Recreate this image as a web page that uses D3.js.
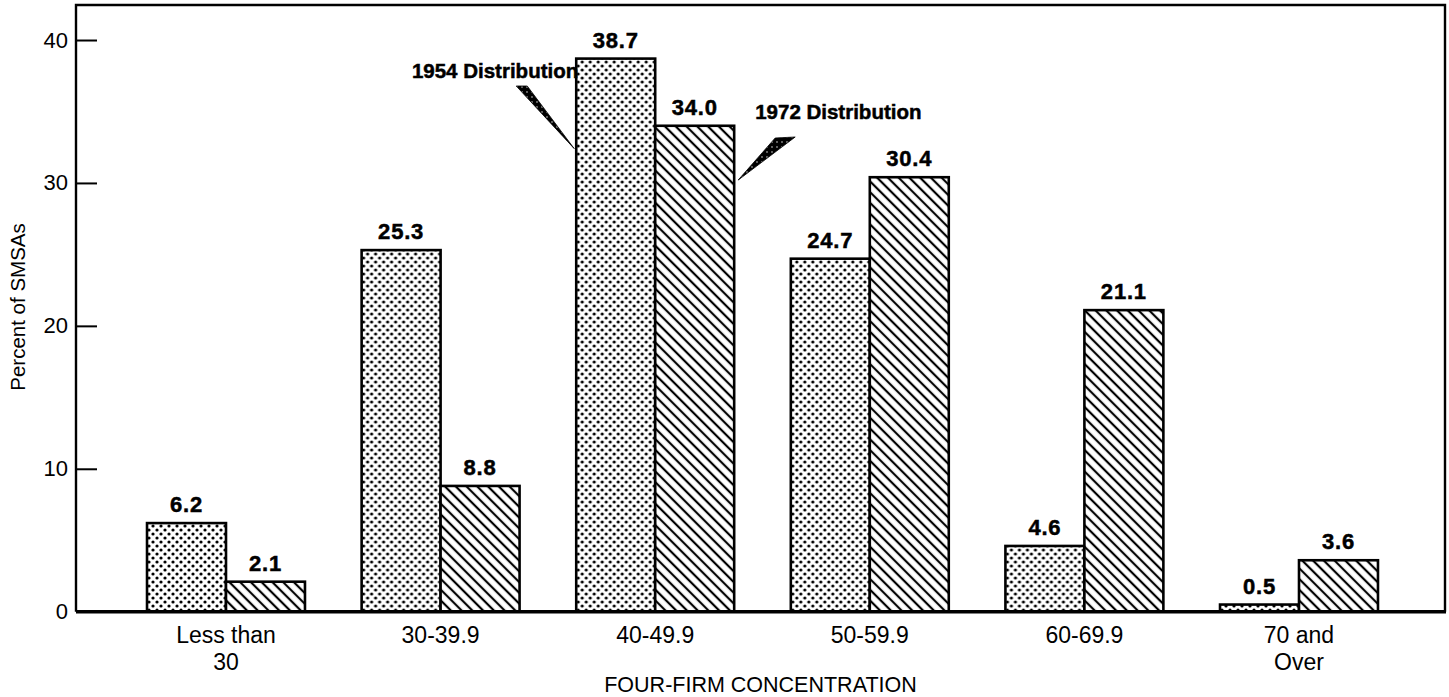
<!DOCTYPE html>
<html>
<head>
<meta charset="utf-8">
<script src="https://cdn.jsdelivr.net/npm/d3@7"></script>
<style>
  body { margin: 0; background: #fff; }
  text { font-family: "Liberation Sans", Arial, Helvetica, sans-serif; fill: #000; }
  .bold { font-weight: bold; stroke: #000; stroke-width: 0.5px; }
</style>
</head>
<body>
<svg id="chart"></svg>
<script>
// data
var categories = ["Less than|30", "30-39.9", "40-49.9", "50-59.9", "60-69.9", "70 and|Over"];
var series = ["1954", "1972"];
var values1954 = [6.2, 25.3, 38.7, 24.7, 4.6, 0.5];
var values1972 = [2.1, 8.8, 34.0, 30.4, 21.1, 3.6];
var yTicks = [0, 10, 20, 30, 40];

// set the dimensions and margins of the graph
var width = 1449, height = 697;
var margin = {top: 5, right: 4, bottom: 85, left: 76};

var svg = d3.select("#chart")
    .attr("width", width)
    .attr("height", height);

// patterns
var defs = svg.append("defs");
var dots = defs.append("pattern")
    .attr("id", "dots")
    .attr("patternUnits", "userSpaceOnUse")
    .attr("width", 8).attr("height", 8);
dots.append("rect").attr("width", 8).attr("height", 8).attr("fill", "#fff");
dots.append("circle").attr("cx", 2).attr("cy", 2).attr("r", 1.6).attr("fill", "#000");
dots.append("circle").attr("cx", 6).attr("cy", 6).attr("r", 1.6).attr("fill", "#000");

var hatch = defs.append("pattern")
    .attr("id", "hatch")
    .attr("patternUnits", "userSpaceOnUse")
    .attr("width", 7.6).attr("height", 7.6)
    .attr("patternTransform", "rotate(-45)");
hatch.append("rect").attr("width", 7.6).attr("height", 7.6).attr("fill", "#fff");
hatch.append("line").attr("x1", 3.8).attr("y1", -1).attr("x2", 3.8).attr("y2", 9)
    .attr("stroke", "#000").attr("stroke-width", 2.2);

var speckle = defs.append("pattern")
    .attr("id", "speckle")
    .attr("patternUnits", "userSpaceOnUse")
    .attr("width", 5).attr("height", 5);
speckle.append("rect").attr("width", 5).attr("height", 5).attr("fill", "#000");
speckle.append("circle").attr("cx", 2).attr("cy", 2).attr("r", 0.7).attr("fill", "#fff");

// set the ranges
var step = 214.6;
var x = d3.scaleBand()
    .domain(categories)
    .range([226 - step / 2, 226 - step / 2 + step * categories.length])
    .paddingInner(0.264)
    .paddingOuter(0.132);
var xs = d3.scaleBand().domain(series).range([0, x.bandwidth()]);

var y = d3.scaleLinear()
    .domain([0, 42.45])
    .range([height - margin.bottom - 0.3, margin.top]);

var x0 = margin.left, x1 = width - margin.right;
var yBase = y(0);

// frame
svg.append("path")
    .attr("d", "M" + x0 + "," + yBase + "V" + margin.top + "H" + x1 + "V" + yBase)
    .attr("fill", "none").attr("stroke", "#000").attr("stroke-width", 2.4);

// bars
var rows = categories.map(function(c, i) {
  return {cat: c, v: [values1954[i], values1972[i]]};
});
var groups = svg.selectAll(".grp").data(rows).enter().append("g")
    .attr("transform", function(d) { return "translate(" + x(d.cat) + ",0)"; });

groups.selectAll("rect").data(function(d) {
    return series.map(function(s, j) { return {s: s, v: d.v[j]}; });
  }).enter().append("rect")
    .attr("x", function(d) { return xs(d.s); })
    .attr("y", function(d) { return y(d.v); })
    .attr("width", xs.bandwidth())
    .attr("height", function(d) { return yBase - y(d.v); })
    .attr("fill", function(d) { return d.s === "1954" ? "url(#dots)" : "url(#hatch)"; })
    .attr("stroke", "#000").attr("stroke-width", 2.6);

groups.selectAll(".val").data(function(d) {
    return series.map(function(s, j) { return {s: s, v: d.v[j]}; });
  }).enter().append("text")
    .attr("class", "val bold")
    .attr("x", function(d) { return xs(d.s) + xs.bandwidth() / 2; })
    .attr("y", function(d) { return y(d.v) - 11; })
    .attr("text-anchor", "middle")
    .style("font-size", "22px")
    .style("letter-spacing", "0.8px")
    .text(function(d) { return d.v.toFixed(1); });

// baseline
svg.append("line")
    .attr("x1", x0).attr("x2", x1 + 1).attr("y1", yBase).attr("y2", yBase)
    .attr("stroke", "#000").attr("stroke-width", 3.4);

// add the Y Axis
var yAxis = svg.append("g")
    .attr("transform", "translate(" + x0 + ",0)")
    .call(d3.axisLeft(y).tickValues(yTicks).tickSize(-21).tickPadding(8));
yAxis.select(".domain").remove();
yAxis.selectAll(".tick line").attr("stroke", "#000").attr("stroke-width", 2)
    .filter(function(d) { return d === 0; }).remove();
yAxis.selectAll(".tick text").style("font-size", "22px")
    .attr("font-family", null);

svg.append("text")
    .attr("transform", "translate(25," + 307 + ") rotate(-90)")
    .attr("text-anchor", "middle")
    .style("font-size", "20.5px")
    .text("Percent of SMSAs");

// X category labels
var xl = svg.selectAll(".xl").data(categories).enter().append("text")
    .attr("class", "xl")
    .attr("text-anchor", "middle")
    .style("font-size", "23px");
xl.each(function(c) {
  var parts = c.split("|");
  var t = d3.select(this);
  parts.forEach(function(p, k) {
    t.append("tspan")
      .attr("x", x(c) + x.bandwidth() / 2)
      .attr("y", 643 + k * 27)
      .text(p);
  });
});

svg.append("text")
    .attr("x", (x0 + x1) / 2).attr("y", 692)
    .attr("text-anchor", "middle")
    .style("font-size", "21.5px")
    .text("FOUR-FIRM CONCENTRATION");

// annotations pointing at the 40-49.9 bars
var c3 = categories[2];
var left54 = x(c3) + xs("1954");
var right72 = x(c3) + xs("1972") + xs.bandwidth();

svg.append("text")
    .attr("class", "bold")
    .attr("x", left54 + 2).attr("y", 78)
    .attr("text-anchor", "end")
    .style("font-size", "20.5px")
    .text("1954 Distribution");
svg.append("path")
    .attr("d", d3.line()([[left54 - 60, 86], [left54 - 49, 86], [left54 - 2, y(32.4)]]) + "Z")
    .attr("fill", "url(#speckle)").attr("stroke", "#000").attr("stroke-width", 0.8);

svg.append("text")
    .attr("class", "bold")
    .attr("x", right72 + 21).attr("y", 119)
    .style("font-size", "20.5px")
    .text("1972 Distribution");
svg.append("path")
    .attr("d", d3.line()([[right72 + 41, 138], [right72 + 61, 137], [right72 + 4, y(30.2)]]) + "Z")
    .attr("fill", "url(#speckle)").attr("stroke", "#000").attr("stroke-width", 0.8);
</script>
</body>
</html>
